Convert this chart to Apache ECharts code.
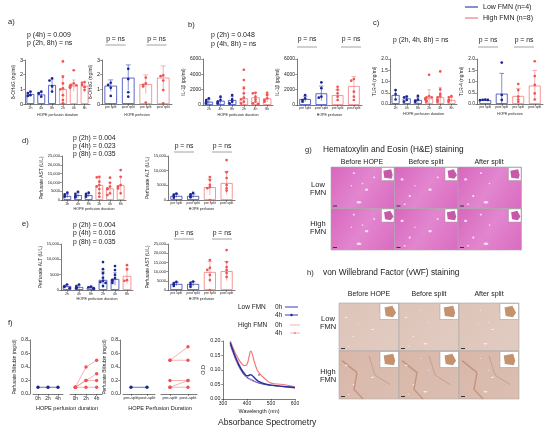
<!DOCTYPE html>
<html><head><meta charset="utf-8">
<script src="https://cdn.jsdelivr.net/npm/echarts/dist/echarts.min.js"></script>
<style>html,body{margin:0;padding:0;background:#fff}#c{width:550px;height:432px}</style>
</head><body><div id="c"></div><script>
// ================= DATA =================
const timeCats = ['2h','4h','8h','2h','4h','8h'];
const splitCats = ['pre split','post split','pre split','post split'];
const timeGroups = ['Low','Low','Low','High','High','High'];
const splitGroups = ['Low','Low','High','High'];
const eTimeGroups = ['Low','Low','Low','Low','Low','High']; // colouring as printed in panel e

// a) 8-OHdG (ng/ml)
const aTimeBars = [0.68, 0.65, 1.3, 1.02, 1.25, 1.25];
const aTimeDots = [[0.85,0.75,0.6,0.55],[0.85,0.75,0.7,0.5],[1.75,1.6,1.2,0.85],
  [2.9,1.85,1.4,1.07,1.0,0.6,0.27,0.05],[2.3,1.4,1.3,1.28,1.25,1.2,1.15,1.1],[1.5,1.45,1.3,1.15,0.95]];
const aSplitBars = [1.25, 1.8, 1.35, 1.8];
const aSplitDots = [[1.45,1.3,1.1,0.55],[2.4,1.7,0.8,0.5],[1.8,1.4,1.3,1.2,0.1],[1.95,1.9,1.6,0.95,0.05]];

// b) IL-1β (pg/ml)
const bTimeBars = [430, 560, 650, 870, 1000, 870];
const bTimeDots = [[870,650,440,220],[1090,650,430,220],[1300,740,430,220],
  [4600,3260,2200,1520,960,740,430,220],[1600,1520,1090,740,430,220,150,100],[1600,1300,870,650,430]];
const bSplitBars = [780, 1520, 1300, 2480];
const bSplitDots = [[1300,870,650,430],[2950,2200,1090,960],[2380,2000,1520,1090,650],[3390,3170,1740,1090,650]];

// c) TLR-4 (ng/ml)
const cTimeBars = [0.4, 0.25, 0.18, 0.25, 0.3, 0.18];
const cTimeDots = [[0.62,0.44,0.2],[0.33,0.3,0.18,0.11],[0.36,0.2,0.15,0.1],
  [1.3,0.35,0.3,0.3,0.25,0.2,0.15,0.1],[1.45,0.65,0.45,0.35,0.3,0.2,0.15,0.1],[0.35,0.3,0.2,0.15,0.1]];
const cSplitBars = [0.17, 0.46, 0.36, 0.82];
const cSplitDots = [[0.2,0.19,0.18,0.17],[1.84,0.4,0.18],[0.89,0.62,0.33,0.2,0.1],[1.9,1.24,0.85,0.47,0.2]];

// d) Perfusate AST / ALT (U/L)
const dTimeBars = [2300, 2800, 2800, 8500, 6600, 8500];
const dTimeDots = [[4150,3200,2500,1900],[4700,3500,2300,1500],[4150,3500,2850,1900],
  [13200,12900,10400,8500,7600,6200,3800,1900],[12700,9800,7600,6600,6100,3800,2800],[17000,13200,8500,7600,6600,3800]];
const dSplitBars = [1400, 1400, 4400, 5800];
const dSplitDots = [[2200,1800,1400,800],[2400,1900,1300,900],[7800,6800,5200,4400,4000,0],[13600,9500,7500,5100,4000,3200]];

// e) Perfusate ALT / AST (U/L)
const eTimeBars = [1300, 1000, 800, 3300, 3600, 4600];
const eTimeDots = [[1800,1300,1000,600],[1800,1300,800,500],[1100,900,600,300],
  [9100,6800,5500,4000,3000,2600,2300,1300],[7800,6500,4900,3900,3300,2900,2300],[8100,6700,3200,3000]];
const eSplitBars = [3300, 3300, 9800, 10300];
const eSplitDots = [[4400,3800,3000,2200],[4600,3900,2800,1700],[16300,12000,10900,8200,5400,0],[21700,15200,12500,10900,9200,7100]];

// f) Perfusate bilirubin (mg/dl)
const fTimeCats = ['0h','2h','4h'];
const fLowTime = [0.1, 0.1, 0.1];
const fHighTime = [[0.1,0.4,0.5],[0.1,0.2,0.3],[0.1,0.2,0.2],[0.1,0.1,0.1]];
const fSplitCats = ['pre-split','post-split'];
const fLowSplit = [0.1, 0.1];
const fHighSplit = [[0.5,0.7],[0.5,0.5],[0.2,0.2],[0.1,0.2],[0.1,0.1]];

// f) Absorbance spectrometry
const wavelength = [330,345,360,375,390,400,410,415,420,430,440,450,475,500,550,600];
const lowOD0h  = [0.19,0.155,0.125,0.1,0.082,0.075,0.07,0.068,0.066,0.062,0.058,0.055,0.05,0.047,0.043,0.04];
const lowOD4h  = [0.195,0.16,0.13,0.105,0.087,0.08,0.082,0.084,0.082,0.074,0.066,0.06,0.052,0.048,0.043,0.039];
const highOD0h = [0.185,0.15,0.12,0.097,0.08,0.072,0.067,0.065,0.063,0.06,0.057,0.055,0.05,0.047,0.044,0.041];
const highOD4h = [0.2,0.17,0.145,0.125,0.115,0.12,0.15,0.165,0.16,0.13,0.105,0.09,0.07,0.055,0.05,0.042];

// ================= STYLE =================
const FONT = '"Liberation Sans", Arial, sans-serif';
const INK = '#222';
const COL = { Low: {dot:'#1b2590', bar:'#3343b8', line:'#2a35a8'}, High: {dot:'#ef5454', bar:'#f27c7c', line:'#f59090'} };

const grid = [], xAxis = [], yAxis = [], series = [], graphic = [];

function sd(a){ const m=a.reduce((s,v)=>s+v,0)/a.length; return Math.sqrt(a.reduce((s,v)=>s+(v-m)*(v-m),0)/Math.max(1,a.length-1)); }
function thousands(v){ return v >= 10000 ? v.toLocaleString('en-US') : String(v); }

function addAxes(gi, cats, xName, xGap, xLab, yMin, yMax, yInt, fmt, yName, yGap, yLab, extra){
  extra = extra || {};
  xAxis.push({type:'category', gridIndex:gi, data:cats, boundaryGap:true,
    axisLine:{show: extra.xLine !== false, onZero:false, lineStyle:{color:INK,width:0.6}},
    axisTick:{show:true, alignWithLabel:true, length:1.8, lineStyle:{color:INK,width:0.5}},
    axisLabel:{interval:0, fontSize:xLab, margin:2, color:INK, fontFamily:FONT},
    name:xName, nameLocation:'middle', nameGap:xGap, nameTextStyle:{fontSize:xLab+0.2, color:INK, fontFamily:FONT},
    splitLine:{show:false}});
  yAxis.push({type:'value', gridIndex:gi, min:yMin, max:yMax, interval:yInt, show: extra.yShow !== false,
    offset: extra.yOffset || 0,
    axisLine:{show:true, lineStyle:{color:INK,width:0.6}},
    axisTick:{show:true, length:1.8, lineStyle:{color:INK,width:0.5}},
    axisLabel:{fontSize:yLab, margin:2, color:INK, fontFamily:FONT, formatter:fmt},
    name:yName, nameLocation:'middle', nameGap:yGap, nameRotate:90,
    nameTextStyle:{fontSize:4.8, color:INK, fontFamily:FONT},
    splitLine:{show:false}});
}

function errRender(params, api){
  const i=api.value(0), m=api.value(1), s=api.value(2);
  const t=api.coord([i,m+s]), b=api.coord([i,Math.max(0,m-s)]);
  const w=api.size([1,0])[0]*0.14;
  const c=api.visual('color');
  return {type:'group', children:[
    {type:'line', shape:{x1:t[0],y1:t[1],x2:b[0],y2:b[1]}, style:{stroke:c,lineWidth:0.6}},
    {type:'line', shape:{x1:t[0]-w,y1:t[1],x2:t[0]+w,y2:t[1]}, style:{stroke:c,lineWidth:0.6}}
  ]};
}
function dotRender(params, api){
  const p=api.coord([api.value(0), api.value(1)]);
  const band=api.size([1,0])[0];
  let dx=api.value(2)*2.6; const lim=band*0.34; dx=Math.max(-lim,Math.min(lim,dx));
  return {type:'circle', shape:{cx:p[0]+dx, cy:p[1], r:1.35}, style:{fill:api.visual('color')}};
}

function barPanel(cfg){
  const gi = grid.length;
  grid.push({left:cfg.rect[0], top:cfg.rect[1], width:cfg.rect[2], height:cfg.rect[3]});
  addAxes(gi, cfg.cats, cfg.xName, cfg.xGap, cfg.xLab, 0, cfg.max, cfg.interval, cfg.fmt, cfg.yName, cfg.yGap, cfg.yLab);
  series.push({type:'bar', xAxisIndex:gi, yAxisIndex:gi, barWidth:'72%', silent:true, z:2,
    data: cfg.bars.map((v,i)=>({value:v, itemStyle:{color:'#fff', borderColor:COL[cfg.groups[i]].bar, borderWidth:0.8}}))});
  series.push({type:'custom', coordinateSystem:'cartesian2d', xAxisIndex:gi, yAxisIndex:gi, encode:{x:0,y:1}, silent:true, z:3, clip:false,
    data: cfg.bars.map((v,i)=>({value:[i, v, sd(cfg.dots[i])], itemStyle:{color:COL[cfg.groups[i]].bar}})),
    renderItem: errRender});
  const dotData=[];
  cfg.dots.forEach((arr,i)=>{
    const placed=[];
    arr.forEach(v=>{
      const near = placed.filter(p=>Math.abs(p-v) < cfg.max*0.05).length;
      placed.push(v);
      const k = near===0 ? 0 : (near%2 ? -1 : 1)*Math.ceil(near/2);
      dotData.push({value:[i, v, k], itemStyle:{color:COL[cfg.groups[i]].dot}});
    });
  });
  series.push({type:'custom', coordinateSystem:'cartesian2d', xAxisIndex:gi, yAxisIndex:gi, encode:{x:0,y:1}, silent:true, z:5, clip:false,
    data: dotData, renderItem: dotRender});
}

// ----- text helpers -----
function T(x, y, text, size, align, color, weight){
  graphic.push({type:'text', x:x, y:y, silent:true, z:10, style:{text:text, fontSize:size, fontFamily:FONT,
    fontWeight: weight || 'normal', fill: color || INK, align: align||'left', textAlign: align||'left',
    verticalAlign:'middle', textVerticalAlign:'middle'}});
}
function L(x1,y1,x2,y2,color,w){ graphic.push({type:'line', silent:true, z:10, shape:{x1,y1,x2,y2}, style:{stroke:color,lineWidth:w}}); }
function pns(cx, y, uy){ T(cx, y, 'p = ns', 6.8, 'center'); L(cx-10, uy, cx+10, uy, '#8a8a8a', 0.8); }

// ================= PANELS a–e =================
const f1 = v=>String(v), fDec1 = v=>v.toFixed(1);

// a
barPanel({rect:[25,60,65,44], cats:timeCats, groups:timeGroups, bars:aTimeBars, dots:aTimeDots, max:3, interval:1, fmt:f1,
  yName:'8-OHdG (ng/ml)', yGap:9, yLab:5.5, xName:'HOPE perfusion duration', xGap:9, xLab:3.5});
barPanel({rect:[102,60,70,44], cats:splitCats, groups:splitGroups, bars:aSplitBars, dots:aSplitDots, max:3, interval:1, fmt:f1,
  yName:'8-OHdG (ng/ml)', yGap:8, yLab:5.5, xName:'HOPE perfusion', xGap:9, xLab:3.3});
// b
barPanel({rect:[203,59,70,46], cats:timeCats, groups:timeGroups, bars:bTimeBars, dots:bTimeDots, max:6000, interval:2000, fmt:f1,
  yName:'IL-1β (pg/ml)', yGap:15, yLab:5, xName:'HOPE perfusion duration', xGap:8, xLab:3.5});
barPanel({rect:[297,59,65,46], cats:splitCats, groups:splitGroups, bars:bSplitBars, dots:bSplitDots, max:6000, interval:2000, fmt:f1,
  yName:'IL-1β (pg/ml)', yGap:15, yLab:5, xName:'HOPE perfusion', xGap:8, xLab:3.3});
// c
barPanel({rect:[390,59,67,45], cats:timeCats, groups:timeGroups, bars:cTimeBars, dots:cTimeDots, max:2, interval:0.5, fmt:fDec1,
  yName:'TLR-4 (ng/ml)', yGap:10, yLab:4.8, xName:'HOPE perfusion duration', xGap:8, xLab:3.5});
barPanel({rect:[477,59,66,45], cats:splitCats, groups:splitGroups, bars:cSplitBars, dots:cSplitDots, max:2, interval:0.5, fmt:fDec1,
  yName:'TLR-4 (ng/ml)', yGap:10, yLab:4.8, xName:'HOPE perfusion', xGap:8, xLab:3.3});
// d
barPanel({rect:[62,156,64,44], cats:timeCats, groups:timeGroups, bars:dTimeBars, dots:dTimeDots, max:25000, interval:5000, fmt:thousands,
  yName:'Perfusate AST (U/L)', yGap:16, yLab:4, xName:'HOPE perfusion duration', xGap:7, xLab:3.5});
barPanel({rect:[168,156,67,44], cats:splitCats, groups:splitGroups, bars:dSplitBars, dots:dSplitDots, max:15000, interval:5000, fmt:thousands,
  yName:'Perfusate ALT (U/L)', yGap:16, yLab:4, xName:'HOPE perfusion', xGap:7, xLab:3.3});
// e
barPanel({rect:[61,244,72,46], cats:timeCats, groups:eTimeGroups, bars:eTimeBars, dots:eTimeDots, max:15000, interval:5000, fmt:thousands,
  yName:'Perfusate ALT (U/L)', yGap:16, yLab:4, xName:'HOPE perfusion duration', xGap:7, xLab:3.5});
barPanel({rect:[168,244,67,46], cats:splitCats, groups:splitGroups, bars:eSplitBars, dots:eSplitDots, max:25000, interval:5000, fmt:thousands,
  yName:'Perfusate AST (U/L)', yGap:16, yLab:4, xName:'HOPE perfusion', xGap:7, xLab:3.3});

// ================= PANEL f =================
function linePanel(rect, cats, yShow, yOffset, rows, isLow, xLab){
  const gi = grid.length;
  grid.push({left:rect[0], top:rect[1], width:rect[2], height:rect[3]});
  addAxes(gi, cats, '', 0, xLab, 0, 0.8, 0.2, fDec1, yShow ? 'Perfusate Bilirubin (mg/dl)' : '', 8, 5, {yShow:yShow, yOffset:yOffset});
  const c = isLow ? COL.Low : COL.High;
  rows.forEach(r=>{
    series.push({type:'line', xAxisIndex:gi, yAxisIndex:gi, data:r, symbol:'circle', symbolSize:3.4, silent:true,
      lineStyle:{color:c.line, width:0.7}, itemStyle:{color:c.dot}, z:4});
  });
}
linePanel([33,340,30,54], fTimeCats, true, 3, [fLowTime], true, 4.8);
linePanel([70,340,32,54], fTimeCats, false, 0, fHighTime, false, 4.8);
linePanel([123,340,32,54], fSplitCats, true, 3, [fLowSplit], true, 4.2);
linePanel([161,340,36,54], fSplitCats, false, 0, fHighSplit, false, 4.2);
T(67, 408, 'HOPE perfusion duration', 5.6, 'center');
T(160, 408, 'HOPE Perfusion Duration', 5.6, 'center');

// spectrum
(function(){
  const gi = grid.length;
  grid.push({left:223, top:341, width:72, height:58});
  xAxis.push({type:'value', gridIndex:gi, min:300, max:600, interval:100,
    axisLine:{show:true, onZero:false, lineStyle:{color:INK,width:0.6}},
    axisTick:{show:true, length:1.8, lineStyle:{color:INK,width:0.5}},
    axisLabel:{fontSize:5, margin:2.5, color:INK, fontFamily:FONT},
    name:'Wavelength (nm)', nameLocation:'middle', nameGap:10, nameTextStyle:{fontSize:5.4, color:INK, fontFamily:FONT},
    splitLine:{show:false}});
  yAxis.push({type:'value', gridIndex:gi, min:0, max:0.2, interval:0.05,
    axisLine:{show:true, lineStyle:{color:INK,width:0.6}},
    axisTick:{show:true, length:1.8, lineStyle:{color:INK,width:0.5}},
    axisLabel:{fontSize:5.3, margin:2.5, color:INK, fontFamily:FONT, formatter:v=>v.toFixed(2)},
    name:'O.D', nameLocation:'middle', nameGap:15, nameRotate:90, nameTextStyle:{fontSize:5.4, color:INK, fontFamily:FONT},
    splitLine:{show:false}});
  const mk = (arr, color, w, z) => ({type:'line', xAxisIndex:gi, yAxisIndex:gi, silent:true, symbol:'none', showSymbol:false,
    smooth:true, z:z, data: wavelength.map((x,i)=>[x, arr[i]]), lineStyle:{color:color, width:w, opacity:1}});
  series.push(mk(highOD4h, '#f07a7a', 1.2, 2));
  series.push(mk(highOD0h, '#e59cc0', 0.9, 3));
  series.push(mk(lowOD0h, '#3a44b4', 1.0, 4));
  series.push(mk(lowOD4h, '#2a2f9e', 1.4, 4));
})();
T(259, 377, '*', 5, 'center');
T(218, 423, 'Absorbance Spectrometry', 8.5, 'left');
// spectrum legend
T(238, 307, 'Low FMN', 6.5); T(275, 307, '0h', 6.5); L(285, 307, 298, 307, COL.Low.bar, 1);
T(275, 315, '4h', 6.5); L(285, 315, 298, 315, COL.Low.bar, 1);
graphic.push({type:'circle', silent:true, z:10, shape:{cx:291.5, cy:315, r:1.2}, style:{fill:COL.Low.dot}});
T(238, 325, 'High FMN', 6.5); T(275, 325, '0h', 6.5); L(290, 325, 300, 325, '#f4a0a0', 0.8);
T(275, 333, '4h', 6.5); L(290, 333, 300, 333, '#f4a0a0', 0.8);
graphic.push({type:'circle', silent:true, z:10, shape:{cx:295, cy:333, r:1.1}, style:{fill:'#f08a8a'}});

// ================= LABELS & ANNOTATIONS =================
T(8, 22, 'a)', 7.5); T(188, 25, 'b)', 7.5); T(373, 23, 'c)', 7.5);
T(22, 141, 'd)', 7.5); T(22, 224, 'e)', 7.5); T(8, 323, 'f)', 7.5);
T(305, 150, 'g)', 7.5); T(307, 273, 'h)', 7.5);

T(27, 35, 'p (4h) = 0.009', 7); T(27, 43.5, 'p (2h, 8h) = ns', 7);
pns(115.5, 39, 45); pns(156.5, 39, 45);
T(211, 35, 'p (2h) = 0.048', 7); T(211, 44.5, 'p (4h, 8h) = ns', 7);
pns(307, 39, 47); pns(351, 39, 47);
T(393, 40, 'p (2h, 4h, 8h) = ns', 6.8);
pns(488, 40, 47); pns(524, 40, 47);
T(73, 138, 'p (2h) = 0.004', 6.8); T(73, 146, 'p (4h) = 0.023', 6.8); T(73, 154, 'p (8h) = 0.035', 6.8);
pns(184, 146, 152); pns(222, 146, 152);
T(73, 225, 'p (2h) = 0.004', 6.8); T(73, 233.5, 'p (4h) = 0.016', 6.8); T(73, 242, 'p (8h) = 0.035', 6.8);
pns(184, 233, 239); pns(222, 233, 239);

// top legend
L(465, 7, 478, 7, COL.Low.bar, 1.2); T(483, 7, 'Low FMN (n=4)', 7);
L(465, 18, 478, 18, COL.High.bar, 1.2); T(483, 18, 'High FMN (n=8)', 7);

// ================= PANELS g & h (micrograph tiles) =================
const spots = [[0.15,0.3,1.4,1],[0.45,0.15,1,0.8],[0.7,0.55,1.6,1.1],[0.3,0.7,1,1],[0.55,0.85,2.2,1.2],[0.85,0.25,0.9,0.9],[0.2,0.9,1,0.7],[0.62,0.4,0.8,0.8],[0.4,0.45,0.7,0.7]];
function tile(x, y, w, h, kind, row, idx, insetW, insetH){
  const ch = [];
  let base;
  if (kind==='HE') base = {type:'linear', x:0,y:0,x2:1,y2:1, colorStops:[{offset:0,color:'#d866bd'},{offset:0.5,color:'#e286cf'},{offset:1,color:'#d96bc0'}]};
  else base = {type:'linear', x:0,y:0,x2:1,y2:1, colorStops:[{offset:0,color: row? '#d8b7a8':'#dec4b9'},{offset:1,color: row? '#dbbfb2':'#e1cbc1'}]};
  ch.push({type:'rect', shape:{x:0,y:0,width:w,height:h}, style:{fill:base, stroke:'#a8a8a8', lineWidth:0.6}});
  if (kind==='vWF' && row===1){
    ch.push({type:'polyline', shape:{points:[[w*0.05,h*0.2],[w*0.3,h*0.45],[w*0.25,h*0.8],[w*0.4,h*1]]}, style:{stroke:'#c49480', lineWidth:1.4, fill:null}});
    ch.push({type:'polyline', shape:{points:[[w*0.5,h*0.1],[w*0.6,h*0.5],[w*0.85,h*0.7]]}, style:{stroke:'#c9a08c', lineWidth:1, fill:null}});
  }
  spots.forEach((s,k)=>{
    const j=(k+idx*2)%spots.length; const sp=spots[j];
    if ((k+idx)%3===0) return;
    ch.push({type:'ellipse', shape:{cx:sp[0]*w*0.8, cy:sp[1]*h, rx:sp[2]*(kind==='HE'?1.1:0.9), ry:sp[3]*(kind==='HE'?1.1:0.6)}, style:{fill: kind==='HE'?'#f6dcf0':'#f4ece8'}});
  });
  // inset
  const ix=w-insetW, iy=0.5;
  ch.push({type:'rect', shape:{x:ix,y:iy,width:insetW-0.5,height:insetH}, style:{fill:'#fff', stroke:'#999', lineWidth:0.5}});
  const cx=ix+insetW/2, cy=iy+insetH/2, r=Math.min(insetW,insetH)*0.36;
  const pts = [[cx-r,cy-r*0.7],[cx+r*0.5,cy-r],[cx+r,cy+r*0.2],[cx+r*0.6,cy+r],[cx-r*0.8,cy+r*0.8]].map((p,k)=>[p[0]+((idx+k)%2)*0.8, p[1]]);
  ch.push({type:'polygon', shape:{points:pts}, style:{fill: kind==='HE' ? '#c65aa8' : '#c4926e'}});
  // scale bar
  ch.push({type:'rect', shape:{x:2,y:h-3,width:4,height:1}, style:{fill:'#333'}});
  graphic.push({type:'group', x:x, y:y, silent:true, z:8, children:ch});
}
const heCols = [331, 394.5, 458], heRows = [167, 208.5];
heRows.forEach((yy,r)=>heCols.forEach((xx,c)=>tile(xx, yy, 63.5, 41.5, 'HE', r, r*3+c, 13, 13)));
T(323, 150, 'Hematoxylin and Eosin (H&E) staining', 8.3);
T(362, 162, 'Before HOPE', 7, 'center'); T(426, 162, 'Before split', 7, 'center'); T(489, 162, 'After split', 7, 'center');
T(318, 185, 'Low', 7.5, 'center'); T(318, 192.5, 'FMN', 7.5, 'center');
T(318, 224, 'High', 7.5, 'center'); T(318, 231.5, 'FMN', 7.5, 'center');

const vwCols = [339, 399, 459], vwRows = [303, 351];
vwRows.forEach((yy,r)=>vwCols.forEach((xx,c)=>tile(xx, yy, 60, 48, 'vWF', r, r*3+c+1, 19, 16)));
T(323, 273, 'von Willebrand Factor (vWF) staining', 8.3);
T(369, 294, 'Before HOPE', 7, 'center'); T(429, 294, 'Before split', 7, 'center'); T(489, 294, 'After split', 7, 'center');
T(328, 319, 'Low', 7.5, 'center'); T(328, 327, 'FMN', 7.5, 'center');
T(328, 372, 'High', 7.5, 'center'); T(328, 380, 'FMN', 7.5, 'center');

// ================= RENDER =================
const chart = echarts.init(document.getElementById('c'), null, {renderer:'canvas'});
chart.setOption({animation:false, backgroundColor:'#fff', textStyle:{fontFamily:FONT},
  grid, xAxis, yAxis, series, graphic});
</script></body></html>
